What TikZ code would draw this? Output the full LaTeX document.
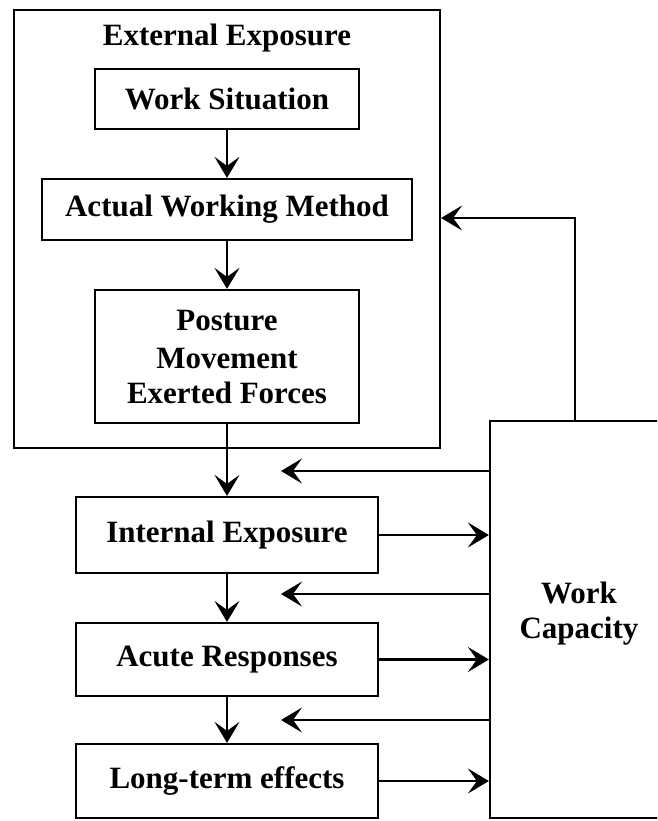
\documentclass[tikz,border=0pt]{standalone}
\usepackage{fontspec}
\setmainfont{Liberation Serif}
\usetikzlibrary{arrows.meta}
\begin{document}
\begin{tikzpicture}[x=1pt,y=-1pt,
  every node/.style={font=\fontsize{31}{35}\selectfont\bfseries},
  box/.style={draw,line width=2.2pt,inner sep=0pt,align=center},
  flow/.style={line width=2.2pt,-{Stealth[length=21pt,width=25pt,inset=9pt]}},
  link/.style={line width=2.2pt}]
\useasboundingbox (0,0) rectangle (657,821);
\clip (0,0) rectangle (657,821);
\fill[white] (0,0) rectangle (657,821);
% outer External Exposure box
\node[box,minimum width=426pt,minimum height=438pt] (outer) at (227,229) {};
\node (title) at (227,38) {External Exposure};
\node[box,minimum width=264pt,minimum height=60pt] (ws) at (227,99) {Work Situation};
\node[box,minimum width=370pt,minimum height=61pt] (awm) at (227,209.5) {Actual Working Method};
\node[box,minimum width=264pt,minimum height=133pt] (pmf) at (227,356.5) {\raisebox{3pt}{Posture}\\Movement\\Exerted Forces};
\node[box,minimum width=302pt,minimum height=76pt] (ie) at (227,535) {\raisebox{7pt}{Internal Exposure}};
\node[box,minimum width=302pt,minimum height=73pt] (ar) at (227,659.5) {\raisebox{7pt}{Acute Responses}};
\node[box,minimum width=302pt,minimum height=74pt] (lt) at (227,781) {\raisebox{7pt}{Long-term effects}};
\node[box,minimum width=178pt,minimum height=397pt] (wc) at (579,619.5) {};
\node[align=center] (wctext) at (579,614) {Work\\Capacity};
% forward flow
\draw[flow] (ws) -- (awm);
\draw[flow] (awm) -- (pmf);
\draw[flow] (pmf) -- (ie);
\draw[flow] (ie) -- (ar);
\draw[flow] (ar) -- (lt);
% to work capacity
\draw[flow] (ie.east) -- (ie.east -| wc.west);
\draw[flow] (ar.east) -- (ar.east -| wc.west);
\draw[flow] (lt.east) -- (lt.east -| wc.west);
% feedback from work capacity
\coordinate (f1) at (281,471);
\coordinate (f2) at (281,594);
\coordinate (f3) at (281,720);
\draw[flow] (f1 -| wc.west) -- (f1);
\draw[flow] (f2 -| wc.west) -- (f2);
\draw[flow] (f3 -| wc.west) -- (f3);
\coordinate (up) at (575,218);
\draw[flow] (up |- wc.north) -- (up) -- (up -| outer.east);
\end{tikzpicture}
\end{document}
